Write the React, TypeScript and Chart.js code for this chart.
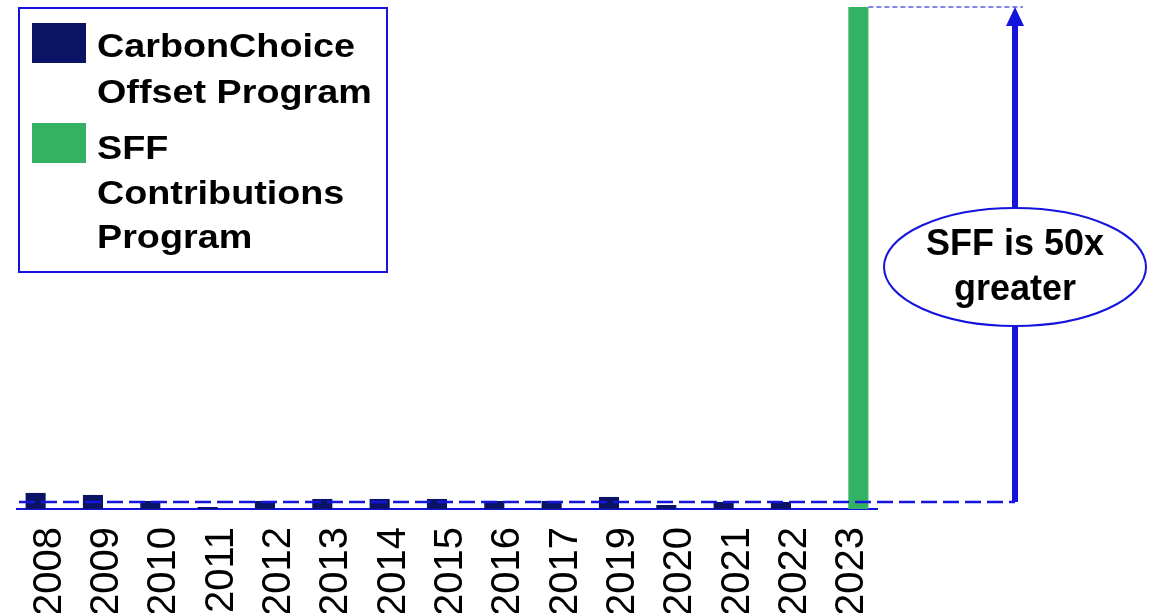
import { useEffect, useRef } from 'react';
import { Chart, registerables } from 'chart.js';

Chart.register(...registerables);

const years = ['2008', '2009', '2010', '2011', '2012', '2013', '2014', '2015', '2016', '2017', '2019', '2020', '2021', '2022', '2023'];
const carbonChoice = [16, 14, 8, 2, 8, 10, 10, 10, 8, 8, 12, 4, 7, 7, null];
const sffContributions = [null, null, null, null, null, null, null, null, null, null, null, null, null, null, 500];
const seriesLabels = ['CarbonChoice Offset Program', 'SFF Contributions Program'];
const legendLines = [['CarbonChoice', 'Offset Program'], ['SFF', 'Contributions', 'Program']];
const referenceValue = 7;
const calloutLines = ['SFF is 50x', 'greater'];

const NAVY = '#0b1464';
const GREEN = '#33b264';
const BLUE = '#1414dc';
const FONT = '"Liberation Sans", Arial, sans-serif';

const annotationPlugin = {
  id: 'annotations',
  afterDatasetsDraw(chart: any) {
    const { ctx, chartArea, scales } = chart;
    const y = scales.y;
    const refY = y.getPixelForValue(referenceValue);
    const topY = y.getPixelForValue(sffContributions[sffContributions.length - 1] as number);
    const greenBar = chart.getDatasetMeta(1).data[sffContributions.length - 1];
    const greenRight = greenBar.x + greenBar.width / 2;
    const arrowX = chartArea.right + 138;

    ctx.save();
    // dashed reference line
    ctx.strokeStyle = BLUE;
    ctx.lineWidth = 2.5;
    ctx.setLineDash([16, 6]);
    ctx.beginPath();
    ctx.moveTo(chartArea.left + 2, refY);
    ctx.lineTo(arrowX, refY);
    ctx.stroke();

    // dotted top line
    ctx.strokeStyle = '#5a5ae8';
    ctx.lineWidth = 1.5;
    ctx.setLineDash([5, 3]);
    ctx.beginPath();
    ctx.moveTo(greenRight, topY);
    ctx.lineTo(arrowX + 8, topY);
    ctx.stroke();
    ctx.setLineDash([]);

    // arrow shaft
    ctx.fillStyle = BLUE;
    ctx.fillRect(arrowX - 3, topY + 16, 6, refY - topY - 16);
    // arrow head
    ctx.beginPath();
    ctx.moveTo(arrowX, topY);
    ctx.lineTo(arrowX + 9, topY + 19);
    ctx.lineTo(arrowX - 9, topY + 19);
    ctx.closePath();
    ctx.fill();

    // ellipse callout
    const cy = 267;
    ctx.beginPath();
    ctx.ellipse(arrowX, cy, 131, 59, 0, 0, Math.PI * 2);
    ctx.fillStyle = '#ffffff';
    ctx.fill();
    ctx.strokeStyle = BLUE;
    ctx.lineWidth = 2;
    ctx.stroke();
    ctx.fillStyle = '#000000';
    ctx.font = `bold 36px ${FONT}`;
    ctx.textAlign = 'center';
    ctx.textBaseline = 'alphabetic';
    ctx.fillText(calloutLines[0], arrowX, 255);
    ctx.fillText(calloutLines[1], arrowX, 300);
    ctx.restore();
  },
  afterDraw(chart: any) {
    const { ctx } = chart;
    ctx.save();
    // legend box
    ctx.fillStyle = '#ffffff';
    ctx.fillRect(18, 7, 370, 266);
    ctx.strokeStyle = BLUE;
    ctx.lineWidth = 2;
    ctx.strokeRect(19, 8, 368, 264);
    const colors = [NAVY, GREEN];
    const swatchY = [23, 123];
    const baselines = [[57, 103], [159, 204, 248]];
    ctx.font = `bold 34px ${FONT}`;
    ctx.textBaseline = 'alphabetic';
    ctx.textAlign = 'left';
    legendLines.forEach((lines, i) => {
      ctx.fillStyle = colors[i];
      ctx.fillRect(32, swatchY[i], 54, 40);
      ctx.fillStyle = '#000000';
      lines.forEach((line, j) => {
        ctx.save();
        ctx.translate(97, baselines[i][j]);
        ctx.scale(1.11, 1);
        ctx.fillText(line, 0, 0);
        ctx.restore();
      });
    });
    ctx.restore();
  },
};

export default function App() {
  const ref = useRef<HTMLCanvasElement>(null);
  useEffect(() => {
    document.body.style.margin = '0';
    document.body.style.overflow = 'hidden';
    const chart = new Chart(ref.current!, {
      type: 'bar',
      data: {
        labels: years,
        datasets: [
          { label: seriesLabels[0], data: carbonChoice, backgroundColor: NAVY, categoryPercentage: 0.7, barPercentage: 1 },
          { label: seriesLabels[1], data: sffContributions, backgroundColor: GREEN, categoryPercentage: 0.7, barPercentage: 1 },
        ],
      },
      options: {
        responsive: false,
        animation: false,
        devicePixelRatio: 1,
        layout: { padding: { top: 7, left: 17, right: 275, bottom: 0 } },
        plugins: { legend: { display: false }, tooltip: { enabled: false } },
        scales: {
          x: {
            grid: { display: false, drawTicks: false },
            border: { display: true, color: BLUE, width: 2 },
            ticks: {
              autoSkip: false,
              minRotation: 90,
              maxRotation: 90,
              padding: 18,
              labelOffset: 4,
              color: '#000000',
              font: { family: FONT, size: 40 },
            },
            afterFit: (scale: any) => {
              scale.height = 104;
            },
          },
          y: { display: false, min: 0, max: 500 },
        },
      },
      plugins: [annotationPlugin],
    });
    return () => chart.destroy();
  }, []);
  return (
    <div style={{ position: 'absolute', left: 0, top: 0, width: 1152, height: 613, background: '#fff' }}>
      <canvas ref={ref} width={1152} height={613} style={{ display: 'block' }} />
    </div>
  );
}
